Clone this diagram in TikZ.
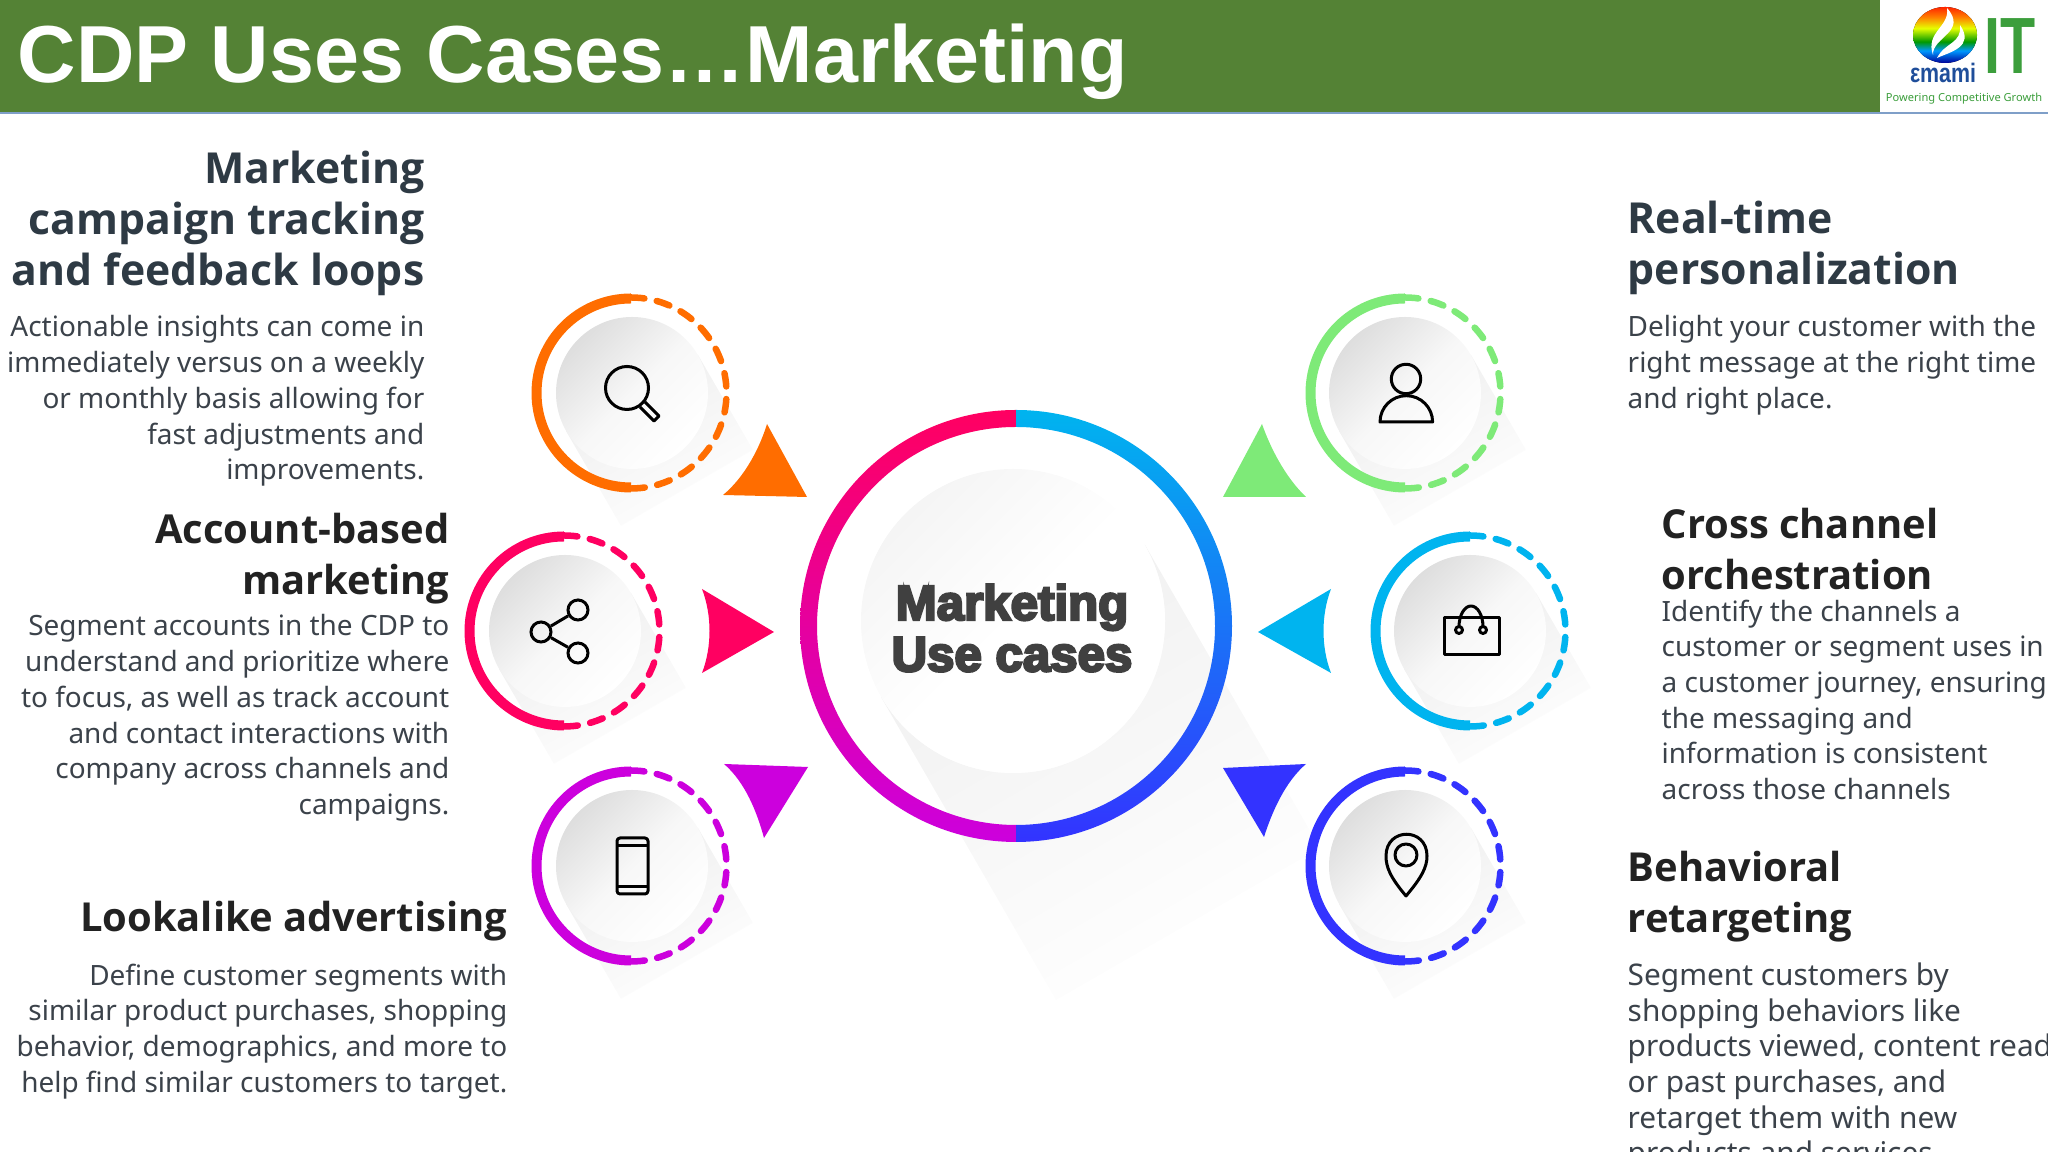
\documentclass[tikz,border=0pt]{standalone}
\usepackage{fontspec}
\setmainfont{Noto Sans}
\newfontfamily\headfont{Open Sans}
\newfontfamily\titlefont{Liberation Sans}
\newfontfamily\blackfont[FakeBold=5]{Liberation Sans Bold}
\newfontfamily\narrowfont[FakeStretch=0.8]{Liberation Sans}
\newfontfamily\itfont[FakeStretch=0.72]{Liberation Sans}
\usetikzlibrary{shapes.geometric}
\definecolor{bannergreen}{HTML}{548235}
\definecolor{bannerline}{HTML}{7F9FC8}
\definecolor{headcol}{HTML}{2E3A44}
\definecolor{headdark}{HTML}{222222}
\definecolor{bodycol}{HTML}{3B424A}
\definecolor{centrecol}{HTML}{404040}
\definecolor{orangecol}{HTML}{FF6D00}
\definecolor{pinkcol}{HTML}{FF0061}
\definecolor{purplecol}{HTML}{CC00DD}
\definecolor{greencol}{HTML}{7EEA78}
\definecolor{cyancol}{HTML}{00B4EF}
\definecolor{bluecol}{HTML}{3333FF}
\definecolor{logotext}{HTML}{1F4E9A}
\definecolor{logogreen}{HTML}{3C9E3C}
\pgfdeclareverticalshading{logorainbow}{100bp}{color(0bp)=(blue!60!black); color(25bp)=(blue!60!black); color(36bp)=(cyan!60!blue); color(44bp)=(green!60!black); color(56bp)=(yellow!90!green); color(66bp)=(orange); color(75bp)=(red!70!orange); color(100bp)=(red!70!orange)}
\tikzstyle{headtext}=[inner sep=0pt,font=\headfont\fontsize{12.15pt}{14.5pt}\selectfont\bfseries,text=headcol]
\tikzstyle{headblack}=[inner sep=0pt,font=\headfont\fontsize{11.35pt}{14.5pt}\selectfont\bfseries,text=headdark]
\tikzstyle{bodytext}=[inner sep=0pt,font=\fontsize{7.95pt}{10.15pt}\selectfont,text=bodycol]
\tikzstyle{thickarc}=[line width=0.1cm]
\tikzstyle{dasharc}=[line width=0.065cm,line cap=round,dash pattern=on 0.134cm off 0.126cm]
\tikzstyle{smalldisc}=[top color=black!13,bottom color=white,middle color=black!3,shading angle=45]
\tikzstyle{smallshadow}=[top color=black!7,bottom color=white,shading angle=30]
\tikzstyle{iconline}=[draw=black,line width=0.03cm,line join=round]
\tikzstyle{sharedot}=[circle,draw=black,line width=0.03cm,minimum size=0.2cm,inner sep=0pt]
\begin{document}
\begin{tikzpicture}[x=0.01cm,y=0.01cm]
\useasboundingbox (0,0) rectangle (2048,1152);
\clip (0,0) rectangle (2048,1152);

% banner
\fill [bannergreen] (0,1040) rectangle (1880,1152);
\draw [bannerline,line width=0.015cm] (0,1039) -- (2048,1039);
\node (title) at (17,1090) [anchor=west,inner sep=0pt,text=white,font=\titlefont\fontsize{23pt}{28pt}\selectfont\bfseries] {CDP Uses Cases…Marketing};

% logo
\fill [shading=logorainbow] (1945,1117) ellipse (32 and 28);
\fill [white] (1933,1097) .. controls (1925,1120) and (1950,1125) .. (1947,1144) .. controls (1968,1120) and (1932,1115) .. (1933,1097);
\fill [white] (1937,1094) .. controls (1945,1110) and (1962,1108) .. (1960,1127) .. controls (1975,1105) and (1950,1100) .. (1937,1094);
\node (emami) at (1943,1079) [inner sep=0pt,text=logotext,font=\narrowfont\fontsize{7.6pt}{9pt}\selectfont\bfseries] {εmami};
\node (itmark) at (2010,1106) [inner sep=0pt,text=logogreen,font=\itfont\fontsize{22.7pt}{24pt}\selectfont\bfseries] {IT};
\node (tagline) at (1964,1053) [inner sep=0pt,text=logogreen,font=\fontsize{3.15pt}{4pt}\selectfont\bfseries] {Powering Competitive Growth};

% long shadows
\shade [top color=black!6,bottom color=white,shading angle=30] (881,455) -- (1056,152) -- (1320,304) -- (1145,607) -- cycle;
\shade [smallshadow] (566,721) -- (621,626) -- (753,702) -- (698,797) -- cycle;
\shade [smallshadow] (499,483) -- (554,388) -- (686,464) -- (631,559) -- cycle;
\shade [smallshadow] (566,248) -- (621,153) -- (753,229) -- (698,324) -- cycle;
\shade [smallshadow] (1339,721) -- (1394,626) -- (1526,702) -- (1471,797) -- cycle;
\shade [smallshadow] (1404,483) -- (1459,388) -- (1591,464) -- (1536,559) -- cycle;
\shade [smallshadow] (1339,248) -- (1394,153) -- (1526,229) -- (1471,324) -- cycle;

% centre
\fill [white] (1013,531) circle (152);
\shade [top color=black!4,bottom color=white,middle color=white,shading angle=45] (1013,531) circle (152);
\shade [top color=pinkcol,bottom color=purplecol] (1016,742) arc (90:270:216) -- (1016,327) arc (270:90:199) -- cycle;
\shade [top color=cyancol,bottom color=bluecol] (1016,742) arc (90:-90:216) -- (1016,327) arc (-90:90:199) -- cycle;
\node (centre) at (1012,524) [align=center,inner sep=0pt,text=centrecol,font=\blackfont\fontsize{14pt}{14.6pt}\selectfont] {Marketing\\Use cases};

% rings
\shade [smalldisc] (632,759) circle (76);
\draw [thickarc,orangecol] (631,853.5) arc (90:270:94.5);
\draw [dasharc,orangecol] (631,854.5) arc (90:-90:95.5);
\shade [smalldisc] (565,521) circle (76);
\draw [thickarc,pinkcol] (564,615.5) arc (90:270:94.5);
\draw [dasharc,pinkcol] (564,616.5) arc (90:-90:95.5);
\shade [smalldisc] (632,286) circle (76);
\draw [thickarc,purplecol] (631,380.5) arc (90:270:94.5);
\draw [dasharc,purplecol] (631,381.5) arc (90:-90:95.5);
\shade [smalldisc] (1405,759) circle (76);
\draw [thickarc,greencol] (1405,853.5) arc (90:270:94.5);
\draw [dasharc,greencol] (1405,854.5) arc (90:-90:95.5);
\shade [smalldisc] (1470,521) circle (76);
\draw [thickarc,cyancol] (1470,615.5) arc (90:270:94.5);
\draw [dasharc,cyancol] (1470,616.5) arc (90:-90:95.5);
\shade [smalldisc] (1405,286) circle (76);
\draw [thickarc,bluecol] (1405,380.5) arc (90:270:94.5);
\draw [dasharc,bluecol] (1405,381.5) arc (90:-90:95.5);

% triangles
\fill [orangecol] (767,728) -- (807,655) -- (723,657) .. controls (745,675) and (760,705) .. (767,728);
\fill [greencol] (1262,728) -- (1223,655) -- (1306,655) .. controls (1285,675) and (1270,705) .. (1262,728);
\fill [pinkcol] (702,563) -- (774,520) -- (702,479) .. controls (712,505) and (712,537) .. (702,563);
\fill [cyancol] (1331,563) -- (1258,520) -- (1331,479) .. controls (1321,505) and (1321,537) .. (1331,563);
\fill [purplecol] (724,388) -- (808,385) -- (764,314) .. controls (757,340) and (745,370) .. (724,388);
\fill [bluecol] (1223,384) -- (1306,388) .. controls (1285,370) and (1272,340) .. (1264,315) -- cycle;

% icons
\draw [iconline] (627,764) circle (21.5);
\draw [iconline] (645,750) -- (659,736) -- (654,731) -- (640,745);
\draw [iconline] (1406,773) circle (14.7);
\draw [iconline] (1380,730) arc (180:0:26.3) -- cycle;
\draw [iconline] (1444,497) rectangle (1499,534);
\draw [iconline] (1459,525) arc (180:0:12 and 21);
\draw [iconline] (1459,522) circle (3.5);
\draw [iconline] (1483,522) circle (3.5);
\node (sharemid) at (541,520) [sharedot] {};
\node (sharetop) at (578,542) [sharedot] {};
\node (sharelow) at (578,499) [sharedot] {};
\draw [iconline] (sharemid) -- (sharetop);
\draw [iconline] (sharemid) -- (sharelow);
\draw [iconline,rounded corners=0.03cm] (617,258) rectangle (648,314);
\draw [iconline] (617,306) -- (648,306);
\draw [iconline] (617,265) -- (648,265);
\draw [iconline] (1406,256) .. controls (1390,275) and (1386,285) .. (1386,296) .. controls (1386,325) and (1427,325) .. (1427,296) .. controls (1427,285) and (1422,275) .. (1406,256) -- cycle;
\draw [iconline] (1406,297) circle (11);

% left column
\node (headA) at (425,1002) [headtext,anchor=north east,align=right] {Marketing\\campaign tracking\\and feedback loops};
\node (bodyA) at (425,837) [bodytext,anchor=north east,align=right] {Actionable insights can come in\\immediately versus on a weekly\\or monthly basis allowing for\\fast adjustments and\\improvements.};
\node (headB) at (450,640) [headblack,anchor=north east,align=right] {Account-based\\marketing};
\node (bodyB) at (450,538) [bodytext,anchor=north east,align=right] {Segment accounts in the CDP to\\understand and prioritize where\\to focus, as well as track account\\and contact interactions with\\company across channels and\\campaigns.};
\node (headC) at (508,252) [headblack,anchor=north east,align=right] {Lookalike advertising};
\node (bodyC) at (508,189) [bodytext,anchor=north east,align=right] {Define customer segments with\\similar product purchases, shopping\\behavior, demographics, and more to\\help find similar customers to target.};

% right column
\node (headD) at (1627,952) [headtext,anchor=north west,align=left] {Real-time\\personalization};
\node (bodyD) at (1627,837) [bodytext,anchor=north west,align=left] {Delight your customer with the\\right message at the right time\\and right place.};
\node (headE) at (1661,645) [headblack,anchor=north west,align=left] {Cross channel\\orchestration};
\node (bodyE) at (1661,553) [bodytext,anchor=north west,align=left] {Identify the channels a\\customer or segment uses in\\a customer journey, ensuring\\the messaging and\\information is consistent\\across those channels};
\node (headF) at (1627,302) [headblack,anchor=north west,align=left] {Behavioral\\retargeting};
\node (bodyF) at (1627,190) [bodytext,anchor=north west,align=left,font=\fontsize{8.48pt}{10.15pt}\selectfont] {Segment customers by\\shopping behaviors like\\products viewed, content read\\or past purchases, and\\retarget them with new\\products and services};
\end{tikzpicture}
\end{document}
